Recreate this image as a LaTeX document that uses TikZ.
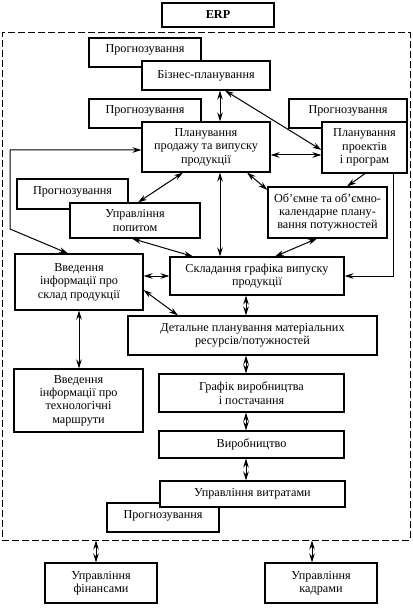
\documentclass[tikz,border=0pt]{standalone}
\usepackage{fontspec}
\setmainfont{Liberation Serif}
\usepackage{xcolor}
\usepackage{tikz}
\usetikzlibrary{arrows.meta,positioning,calc}

\begin{document}
\begin{tikzpicture}[x=1pt, y=-1pt]
    \tikzstyle{mblock} = [draw, fill=white, line width=1.1pt, font=\fontsize{12.2}{13.4}\selectfont, align=center, inner sep=1pt]
    \tikzstyle{progbox} = [mblock, minimum width=112pt, minimum height=29pt, text depth=7pt]
    \tikzstyle{darrow} = [line width=1pt, {Stealth[length=9pt,width=5.5pt]}-{Stealth[length=9pt,width=5.5pt]}]
    \tikzstyle{sarrow} = [line width=1pt, -{Stealth[length=9pt,width=5.5pt]}]
    \useasboundingbox (0,0) rectangle (412,609);

    \node[mblock, minimum width=112pt, minimum height=24pt] (erp) at (218,15) {\textbf{ERP}};
    \node[draw, line width=1pt, dash pattern=on 7pt off 3pt, minimum width=408pt, minimum height=507pt] (erpframe) at (206,286.5) {};

    \node[progbox] (prog1) at (145,52.5) {Прогнозування};
    \node[mblock, minimum width=128pt, minimum height=29pt] (biz) at (206,75.5) {Бізнес-планування};
    \node[progbox] (prog2) at (145,113.5) {Прогнозування};
    \node[mblock, minimum width=128pt, minimum height=50pt] (sales) at (206,147) {Планування\\продажу та випуску\\продукції};
    \node[progbox, minimum width=118pt] (prog3) at (348,113.5) {Прогнозування};
    \node[mblock, minimum width=85pt, minimum height=51pt] (proj) at (364.5,147.5) {Планування\\проектів\\і програм};
    \node[progbox, minimum width=111pt, minimum height=30pt] (prog4) at (72.5,194) {Прогнозування};
    \node[mblock, minimum width=130pt, minimum height=35pt] (demand) at (135,220.5) {Управління\\попитом};
    \node[mblock, minimum width=119pt, minimum height=51pt] (capac) at (327.5,212.5) {Об’ємне та об’ємно-\\календарне плану-\\вання потужностей};
    \node[mblock, minimum width=174pt, minimum height=38pt] (sched) at (257,276) {Складання графіка випуску\\продукції};
    \node[mblock, minimum width=128pt, minimum height=56pt] (bom) at (79,282) {Введення\\інформації про\\склад продукції};
    \node[mblock, minimum width=249pt, minimum height=39pt] (mrp) at (252.5,335.5) {Детальне планування матеріальних\\ресурсів/потужностей};
    \node[mblock, minimum width=129pt, minimum height=63pt] (routes) at (78.5,400.5) {Введення\\інформації про\\технологічні\\маршрути};
    \node[mblock, minimum width=185pt, minimum height=38pt] (plan) at (251.5,393) {Графік виробництва\\і постачання};
    \node[mblock, minimum width=185pt, minimum height=27pt] (prod) at (251.5,444.5) {Виробництво};
    \node[progbox] (prog5) at (163,517.5) {Прогнозування};
    \node[mblock, minimum width=185pt, minimum height=26pt] (cost) at (252.5,494) {Управління витратами};

    \node[mblock, minimum width=112pt, minimum height=40pt] (fin) at (101,583) {Управління\\фінансами};
    \node[mblock, minimum width=112pt, minimum height=40pt] (hr) at (321,583) {Управління\\кадрами};

    \coordinate (lb) at (10,229);

    \draw[darrow] ([xshift=14pt]biz.south) -- ([xshift=14pt]biz.south |- sales.north);
    \draw[darrow] ([xshift=19pt]biz.south) -- ([yshift=-2.5pt]proj.west);
    \draw[darrow] ([yshift=-8pt]sales.east) -- ([yshift=-8pt]sales.east -| proj.west);
    \draw[darrow] ([xshift=-11pt]bom.north) -- (lb) |- ([yshift=-3pt]sales.west);
    \draw[sarrow] ([xshift=0.5pt]proj.south) -- ([xshift=19.5pt]capac.north);
    \draw[sarrow] ([xshift=28.5pt]proj.south) |- (sched.east);
    \draw[darrow] ([xshift=-23pt]sales.south) -- ([xshift=3pt]demand.north);
    \draw[darrow] ([xshift=41pt]sales.south) -- ([yshift=22.5pt]capac.west);
    \draw[darrow] ([xshift=14pt]sales.south) -- ([xshift=14pt]sales.south |- sched.north);
    \draw[darrow] ([xshift=-3pt]demand.south) -- ([xshift=-64pt]sched.north);
    \draw[darrow] ([xshift=-10.5pt]capac.south) -- ([xshift=18pt]sched.north);
    \draw[darrow] ([yshift=6pt]bom.east) -- ([yshift=6pt]bom.east -| sched.west);
    \draw[darrow] ([yshift=-8pt]bom.east) -- ([xshift=-74.5pt]mrp.north);
    \draw[darrow] (bom.south) -- (bom.south |- routes.north);

    % Production chain
    \draw[darrow] ([xshift=-11pt]sched.south) -- ([xshift=-11pt]sched.south |- mrp.north);
    \draw[darrow] ([xshift=-6.5pt]mrp.south) -- ([xshift=-6.5pt]mrp.south |- plan.north);
    \draw[darrow] ([xshift=-5.5pt]plan.south) -- ([xshift=-5.5pt]plan.south |- prod.north);
    \draw[darrow] ([xshift=-5.5pt]prod.south) -- ([xshift=-5.5pt]prod.south |- cost.north);

    \draw[darrow] ([xshift=-5pt]fin.north) -- ([xshift=-5pt]fin.north |- erpframe.south);
    \draw[darrow] ([xshift=-9pt]hr.north) -- ([xshift=-9pt]hr.north |- erpframe.south);
\end{tikzpicture}
\end{document}
